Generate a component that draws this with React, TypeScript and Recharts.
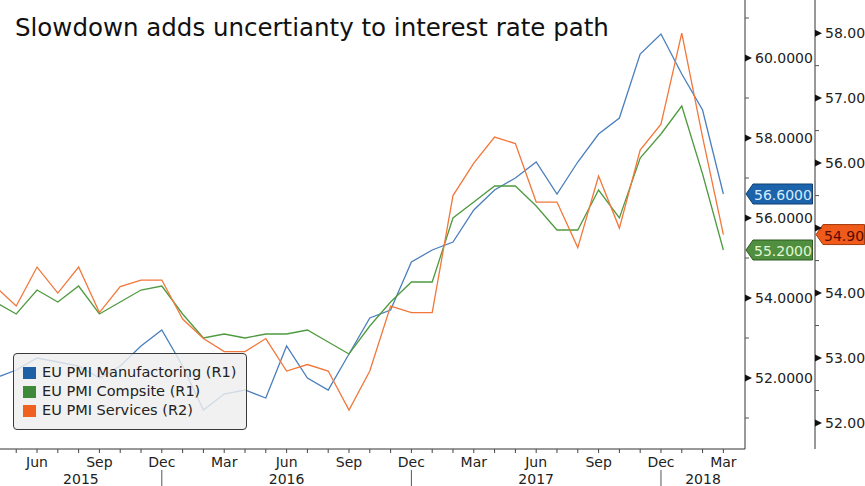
import React from "react";
import { LineChart, Line, XAxis, YAxis, ReferenceLine, Legend } from "recharts";

const months = [
  "Apr 2015", "May 2015", "Jun 2015", "Jul 2015", "Aug 2015", "Sep 2015", "Oct 2015", "Nov 2015", "Dec 2015",
  "Jan 2016", "Feb 2016", "Mar 2016", "Apr 2016", "May 2016", "Jun 2016", "Jul 2016", "Aug 2016", "Sep 2016",
  "Oct 2016", "Nov 2016", "Dec 2016",
  "Jan 2017", "Feb 2017", "Mar 2017", "Apr 2017", "May 2017", "Jun 2017", "Jul 2017", "Aug 2017", "Sep 2017",
  "Oct 2017", "Nov 2017", "Dec 2017",
  "Jan 2018", "Feb 2018", "Mar 2018",
];

const manufacturing = [
  52.0, 52.2, 52.5, 52.4, 52.3, 52.0, 52.3, 52.8, 53.2,
  52.3, 51.2, 51.6, 51.7, 51.5, 52.8, 52.0, 51.7, 52.6, 53.5, 53.7, 54.9,
  55.2, 55.4, 56.2, 56.7, 57.0, 57.4, 56.6, 57.4, 58.1, 58.5, 60.1, 60.6,
  59.6, 58.7, 56.6,
];

const composite = [
  53.9, 53.6, 54.2, 53.9, 54.3, 53.6, 53.9, 54.2, 54.3,
  53.6, 53.0, 53.1, 53.0, 53.1, 53.1, 53.2, 52.9, 52.6, 53.3, 53.9, 54.4,
  54.4, 56.0, 56.4, 56.8, 56.8, 56.3, 55.7, 55.7, 56.7, 56.0, 57.5, 58.1,
  58.8, 57.1, 55.2,
];

const services = [
  54.1, 53.8, 54.4, 54.0, 54.4, 53.7, 54.1, 54.2, 54.2,
  53.6, 53.3, 53.1, 53.1, 53.3, 52.8, 52.9, 52.8, 52.2, 52.8, 53.8, 53.7,
  53.7, 55.5, 56.0, 56.4, 56.3, 55.4, 55.4, 54.7, 55.8, 55.0, 56.2, 56.6,
  58.0, 56.4, 54.9,
];

const r1Ticks = [51, 52, 53, 54, 55, 56, 57, 58, 59, 60, 61];
const r2Ticks = [52, 52.5, 53, 53.5, 54, 54.5, 55, 55.5, 56, 56.5, 57, 57.5, 58];
const labelledMonths = ["Mar", "Jun", "Sep", "Dec"];
const years = ["2015", "2016", "2017", "2018"];
const yearBreaks = ["Dec 2015", "Dec 2016", "Dec 2017"];

const FONT = "'DejaVu Sans', sans-serif";
const INK = "#222";
const X_DOMAIN: [number, number] = [0.22, 36.04];
const R1_DOMAIN: [number, number] = [50.225, 61.45];
const R2_DOMAIN: [number, number] = [51.6, 58.51];
const R1_WIDTH = 70;
const R2_WIDTH = 50;

const series = [
  { key: "mfg", name: "EU PMI Manufactoring (R1)", axis: "r1", line: "#4a7fbd", swatch: "#1f5fa6" },
  { key: "comp", name: "EU PMI Compsite (R1)", axis: "r1", line: "#4f9a3f", swatch: "#3f8a3a" },
  { key: "serv", name: "EU PMI Services (R2)", axis: "r2", line: "#f2773a", swatch: "#f0601f" },
];

const data = months.map((m, i) => ({
  t: i,
  month: m,
  mfg: manufacturing[i],
  comp: composite[i],
  serv: services[i],
}));

const lastMfg = manufacturing[manufacturing.length - 1];
const lastComp = composite[composite.length - 1];
const lastServ = services[services.length - 1];

const monthTicks = data.map((d) => d.t).filter((t) => t >= X_DOMAIN[0] && t <= X_DOMAIN[1]);
const breakIdx = yearBreaks.map((b) => months.indexOf(b));
const bounds = [X_DOMAIN[0], ...breakIdx, X_DOMAIN[1]];
const yearCenters = years.map((_, i) => (bounds[i] + bounds[i + 1]) / 2);
const yearTicks = [...yearCenters, ...breakIdx];

function MonthTick(props: any) {
  const { x, y, payload } = props;
  const name = (months[payload.value] || "").slice(0, 3);
  return (
    <g>
      <line x1={x} x2={x} y1={y} y2={y + 4} stroke="#444" />
      {labelledMonths.includes(name) && (
        <text x={x} y={y + 18} textAnchor="middle" fontFamily={FONT} fontSize={14} fill={INK}>
          {name}
        </text>
      )}
    </g>
  );
}

function YearTick(props: any) {
  const { x, y, payload } = props;
  const ci = yearCenters.indexOf(payload.value);
  if (ci < 0) return <line x1={x} x2={x} y1={y + 1} y2={y + 17} stroke="#555" />;
  return (
    <text x={x} y={y + 15} textAnchor="middle" fontFamily={FONT} fontSize={14} fill={INK}>
      {years[ci]}
    </text>
  );
}

// the value tag covers the tick label next to it, so that label is left out
const valueTick = (isMajor: (v: number) => boolean, digits: number, tagValue?: number) => (props: any) => {
  const { x, y, payload } = props;
  const v = payload.value as number;
  if (!isMajor(v)) return <line x1={x} x2={x + 4} y1={y} y2={y} stroke="#555" />;
  const covered = tagValue !== undefined && Math.abs(v - tagValue) < 0.35;
  return (
    <g>
      <path d={`M${x},${y - 3.5} L${x + 7},${y} L${x},${y + 3.5} Z`} fill="#111" />
      {!covered && (
        <text x={x + 10} y={y} dominantBaseline="central" fontFamily={FONT} fontSize={14} fill={INK}>
          {v.toFixed(digits)}
        </text>
      )}
    </g>
  );
};

const tagLabel =
  (text: string, fill: string, stroke: string, color: string, width: number, shift: number) =>
  (props: any) => {
    const vb = props.viewBox || {};
    const x = vb.x + vb.width + shift;
    const y = vb.y;
    const h = 20;
    const d = `M${x + 1},${y} L${x + 8},${y - h / 2} L${x + width - 0.5},${y - h / 2} L${x + width - 0.5},${y + h / 2} L${x + 8},${y + h / 2} Z`;
    return (
      <g>
        <path d={d} fill={fill} stroke={stroke} strokeWidth={1} />
        <text x={x + 9} y={y + 1} dominantBaseline="central" fontFamily={FONT} fontSize={14} fill={color}>
          {text}
        </text>
      </g>
    );
  };

function LegendBox() {
  return (
    <div
      style={{
        boxSizing: "border-box",
        width: 234,
        height: 77,
        border: "1px solid #3a3a3a",
        borderRadius: 4,
        background: "rgba(238,238,238,0.82)",
        padding: "9px 6px 0 9px",
        fontFamily: FONT,
        fontSize: 14.5,
        lineHeight: "19px",
        color: INK,
        whiteSpace: "nowrap",
      }}
    >
      {series.map((s) => (
        <div key={s.key} style={{ display: "flex", alignItems: "center" }}>
          <span style={{ display: "inline-block", width: 13, height: 12, background: s.swatch, marginRight: 6 }} />
          {s.name}
        </div>
      ))}
    </div>
  );
}

export default function App() {
  return (
    <div style={{ position: "absolute", left: 0, top: 0, width: 865, height: 486, background: "#fff" }}>
      <LineChart width={865} height={486} data={data} margin={{ top: 0, right: 0, bottom: 0, left: 0 }}>
        <XAxis
          xAxisId="m"
          dataKey="t"
          type="number"
          domain={X_DOMAIN}
          allowDataOverflow
          ticks={monthTicks}
          interval={0}
          tick={MonthTick}
          tickSize={0}
          tickMargin={0}
          tickLine={false}
          axisLine={{ stroke: "#333" }}
          height={20}
        />
        <XAxis
          xAxisId="y"
          dataKey="t"
          type="number"
          domain={X_DOMAIN}
          allowDataOverflow
          ticks={yearTicks}
          interval={0}
          tick={YearTick}
          tickSize={0}
          tickMargin={0}
          tickLine={false}
          axisLine={false}
          height={17}
        />
        <YAxis
          yAxisId="r1"
          orientation="right"
          type="number"
          domain={R1_DOMAIN}
          allowDataOverflow
          ticks={r1Ticks}
          interval={0}
          tick={valueTick((v) => v % 2 === 0, 4)}
          tickSize={0}
          tickMargin={0}
          tickLine={false}
          axisLine={{ stroke: "#333" }}
          width={R1_WIDTH}
        />
        <YAxis
          yAxisId="r2"
          orientation="right"
          type="number"
          domain={R2_DOMAIN}
          allowDataOverflow
          ticks={r2Ticks}
          interval={0}
          tick={valueTick((v) => Number.isInteger(v), 2, lastServ)}
          tickSize={0}
          tickMargin={0}
          tickLine={false}
          axisLine={{ stroke: "#333" }}
          width={R2_WIDTH}
        />
        {series.map((s) => (
          <Line
            key={s.key}
            xAxisId="m"
            yAxisId={s.axis}
            type="linear"
            dataKey={s.key}
            name={s.name}
            stroke={s.line}
            strokeWidth={1.3}
            dot={false}
            isAnimationActive={false}
          />
        ))}
        <ReferenceLine
          xAxisId="m"
          yAxisId="r1"
          y={lastMfg}
          stroke="none"
          label={tagLabel(lastMfg.toFixed(4), "#1b64ab", "#0e3f70", "#d6ecff", 68, 0)}
        />
        <ReferenceLine
          xAxisId="m"
          yAxisId="r1"
          y={lastComp}
          stroke="none"
          label={tagLabel(lastComp.toFixed(4), "#4f8f3f", "#2d5a22", "#e2f7d4", 68, 0)}
        />
        <ReferenceLine
          xAxisId="m"
          yAxisId="r2"
          y={lastServ}
          stroke="none"
          label={tagLabel(lastServ.toFixed(2), "#f05a1a", "#a33a0a", "#5a0b00", R2_WIDTH, R1_WIDTH)}
        />
        <Legend
          layout="horizontal"
          verticalAlign="middle"
          align="center"
          wrapperStyle={{ left: 13, top: 353, width: 234, height: 77 }}
          content={() => <LegendBox />}
        />
      </LineChart>
      <div
        style={{
          position: "absolute",
          left: 15,
          top: 16,
          fontFamily: FONT,
          fontSize: 24.5,
          lineHeight: 1,
          color: "#111",
          whiteSpace: "nowrap",
        }}
      >
        Slowdown adds uncertianty to interest rate path
      </div>
    </div>
  );
}
